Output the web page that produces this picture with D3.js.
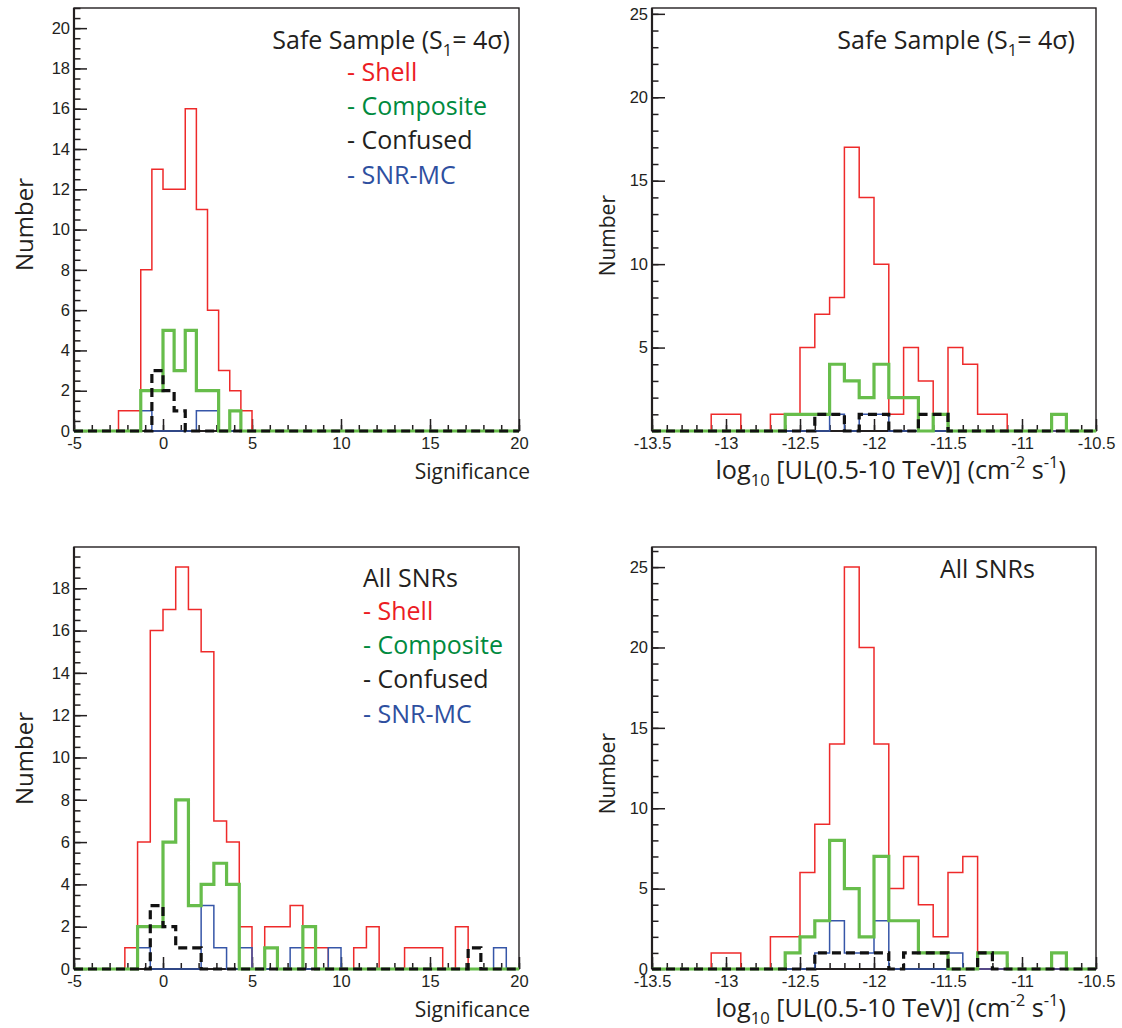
<!DOCTYPE html>
<html><head><meta charset="utf-8">
<script src="https://cdn.jsdelivr.net/npm/d3@7"></script>
<style>body{margin:0;background:#fff}svg{display:block}</style>
</head><body>
<svg id="c" width="1122" height="1028"></svg>
<script>
// ---------------- data ----------------
const sigRange = [-5, 20];
const ulRange = [-13.5, -10.5];
const sigTicks = [-5, 0, 5, 10, 15, 20];
const ulTicks = [-13.5, -13, -12.5, -12, -11.5, -11, -10.5];
const yTicksTL = [0, 2, 4, 6, 8, 10, 12, 14, 16, 18, 20];
const yTicksTR = [5, 10, 15, 20, 25];
const yTicksBL = [0, 2, 4, 6, 8, 10, 12, 14, 16, 18];
const yTicksBR = [0, 5, 10, 15, 20, 25];
const seriesNames = ["- Shell", "- Composite", "- Confused", "- SNR-MC"];

// Safe sample, significance (40 bins, -5..20)
const safeSigShell     = [0,0,0,0,1,1,8,13,12,12,16,11,6,3,2,1,0,0,0,0,0,0,0,0,0,0,0,0,0,0,0,0,0,0,0,0,0,0,0,0];
const safeSigComposite = [0,0,0,0,0,0,2,2,5,3,5,2,2,0,1,0,0,0,0,0,0,0,0,0,0,0,0,0,0,0,0,0,0,0,0,0,0,0,0,0];
const safeSigConfused  = [0,0,0,0,0,0,0,3,2,1,0,0,0,0,0,0,0,0,0,0,0,0,0,0,0,0,0,0,0,0,0,0,0,0,0,0,0,0,0,0];
const safeSigSnrMc     = [0,0,0,0,0,0,1,0,0,0,0,1,1,0,0,0,0,0,0,0,0,0,0,0,0,0,0,0,0,0,0,0,0,0,0,0,0,0,0,0];

// Safe sample, log10 UL (30 bins, -13.5..-10.5)
const safeUlShell     = [0,0,0,0,1,1,0,0,1,1,5,7,8,17,14,10,1,5,3,1,5,4,1,1,0,0,0,0,0,0];
const safeUlComposite = [0,0,0,0,0,0,0,0,0,1,1,1,4,3,2,4,2,2,0,1,0,0,0,0,0,0,0,1,0,0];
const safeUlConfused  = [0,0,0,0,0,0,0,0,0,0,0,1,1,0,1,1,0,0,1,1,0,0,0,0,0,0,0,0,0,0];
const safeUlSnrMc     = [0,0,0,0,0,0,0,0,0,0,0,0,1,0,1,1,0,0,0,0,0,0,0,0,0,0,0,0,0,0];

// All SNRs, significance (35 bins, -5..20)
const allSigShell     = [0,0,0,0,1,6,16,17,19,17,15,7,6,2,0,2,2,3,1,1,0,0,1,2,0,0,1,1,1,0,2,0,0,0,0];
const allSigComposite = [0,0,0,0,0,2,2,6,8,3,4,5,4,0,0,1,0,0,2,0,0,0,0,0,0,0,0,0,0,0,0,0,0,0,0];
const allSigConfused  = [0,0,0,0,0,0,3,2,1,1,0,0,0,0,0,0,0,0,0,0,0,0,0,0,0,0,0,0,0,0,0,1,0,0,0];
const allSigSnrMc     = [0,0,0,0,0,1,0,0,0,0,3,1,0,1,0,0,0,1,0,0,1,0,0,0,0,0,0,0,0,0,0,0,0,1,0];

// All SNRs, log10 UL (30 bins, -13.5..-10.5)
const allUlShell     = [0,0,0,0,1,1,0,0,2,2,6,9,14,25,20,14,5,7,4,2,6,7,0,0,0,0,0,0,0,0];
const allUlComposite = [0,0,0,0,0,0,0,0,0,1,2,3,8,5,2,7,3,3,1,1,0,0,1,1,0,0,0,1,0,0];
const allUlConfused  = [0,0,0,0,0,0,0,0,0,0,0,1,1,1,1,1,0,1,1,1,0,0,1,0,0,0,0,0,0,0];
const allUlSnrMc     = [0,0,0,0,0,0,0,0,0,0,0,1,3,1,1,3,0,0,0,0,1,0,0,0,0,0,0,0,0,0];

// ---------------- styles ----------------
const LABEL_FONT = "'Open Sans', 'DejaVu Sans', sans-serif";
const TICK_FONT = "'Liberation Sans', Arial, sans-serif";
const lineStyles = {
  shell:     {color: "#ee2a2a", width: 1.5, dash: null},
  snrmc:     {color: "#3656a8", width: 1.5, dash: null},
  composite: {color: "#67bd4b", width: 3.2, dash: null},
  confused:  {color: "#111111", width: 3.2, dash: "9,5"}
};
const textColors = ["#ec1c24", "#008a3e", "#231f20", "#2e4f9f"];

const svg = d3.select("#c");
svg.append("rect").attr("width", 1122).attr("height", 1028).attr("fill", "#fff");

function richText(g, x, y, parts, opts) {
  const size = opts.size;
  const t = g.append("text").attr("x", x).attr("y", y)
    .attr("font-family", LABEL_FONT).attr("font-size", size)
    .attr("fill", opts.color || "#231f20")
    .attr("text-anchor", opts.anchor || "start");
  if (opts.transform) t.attr("transform", opts.transform);
  let shift = 0;
  parts.forEach(p => {
    let target = 0, fs = size;
    if (p.sub) { target = 0.28 * size; fs = 0.66 * size; }
    if (p.sup) { target = -0.42 * size; fs = 0.66 * size; }
    t.append("tspan").attr("dy", target - shift).attr("font-size", fs).text(p.t);
    shift = target;
  });
  return t;
}

const panels = [
  {x0: 74, x1: 519, yTop: 8, yBase: 431, yMax: 21, xDom: sigRange, xTicks: sigTicks, xMinor: 1,
   yTicks: yTicksTL, yMinor: 0.5,
   series: [safeSigShell, safeSigSnrMc, safeSigComposite, safeSigConfused],
   kind: "sig", legend: true, title: "safe", titleX: 510, titleY: 49, legendX: 347, legendY: 81,
   nameX: 33, nameEnd: 178, nameSize: 24, xTitleY: 479},
  {x0: 652, x1: 1096, yTop: 8, yBase: 431, yMax: 25.35, xDom: ulRange, xTicks: ulTicks, xMinor: 0.1,
   yTicks: yTicksTR, yMinor: 1,
   series: [safeUlShell, safeUlSnrMc, safeUlComposite, safeUlConfused],
   kind: "ul", legend: false, title: "safe", titleX: 1075, titleY: 49,
   nameX: 615, nameEnd: 195, nameSize: 21, xTitleY: 479},
  {x0: 74, x1: 519, yTop: 547, yBase: 969, yMax: 19.95, xDom: sigRange, xTicks: sigTicks, xMinor: 1,
   yTicks: yTicksBL, yMinor: 0.5,
   series: [allSigShell, allSigSnrMc, allSigComposite, allSigConfused],
   kind: "sig", legend: true, title: "all", titleX: 363, titleY: 587, legendX: 363, legendY: 620,
   nameX: 33, nameEnd: 712, nameSize: 24, xTitleY: 1017},
  {x0: 652, x1: 1096, yTop: 547, yBase: 969, yMax: 26.25, xDom: ulRange, xTicks: ulTicks, xMinor: 0.1,
   yTicks: yTicksBR, yMinor: 1,
   series: [allUlShell, allUlSnrMc, allUlComposite, allUlConfused],
   kind: "ul", legend: false, title: "all", titleX: 940, titleY: 578,
   nameX: 615, nameEnd: 733, nameSize: 21, xTitleY: 1017}
];
const styleOrder = ["shell", "snrmc", "composite", "confused"];

panels.forEach(p => {
  const g = svg.append("g");
  const x = d3.scaleLinear().domain(p.xDom).range([p.x0, p.x1]);
  const y = d3.scaleLinear().domain([0, p.yMax]).range([p.yBase, p.yTop]);

  // frame
  g.append("rect").attr("x", p.x0).attr("y", p.yTop)
    .attr("width", p.x1 - p.x0).attr("height", p.yBase - p.yTop)
    .attr("fill", "none").attr("stroke", "#231f20").attr("stroke-width", 1.4);

  const xMinorVals = d3.range(0, Math.round((p.xDom[1] - p.xDom[0]) / p.xMinor) + 1).map(i => p.xDom[0] + i * p.xMinor);
  const yMinorVals = d3.range(0, Math.floor(p.yMax / p.yMinor + 1e-9) + 1).map(i => i * p.yMinor);

  const axStyle = sel => {
    sel.select(".domain").remove();
    sel.selectAll("line").attr("stroke", "#231f20").attr("stroke-width", 1.5);
    sel.attr("font-family", TICK_FONT).attr("font-size", 16.5);
    sel.selectAll("text").attr("fill", "#231f20");
  };

  g.append("g").attr("transform", `translate(0,${p.yBase})`)
    .call(d3.axisBottom(x).tickValues(xMinorVals).tickSize(-6).tickFormat(""))
    .call(axStyle);
  g.append("g").attr("transform", `translate(0,${p.yBase})`)
    .call(d3.axisBottom(x).tickValues(p.xTicks).tickSize(-12).tickPadding(6).tickFormat(d => String(d)))
    .call(axStyle)
    .call(s => s.selectAll("text").attr("y", 6).attr("dy", "0.71em"));
  g.append("g").attr("transform", `translate(${p.x0},0)`)
    .call(d3.axisLeft(y).tickValues(yMinorVals).tickSize(-6.5).tickFormat(""))
    .call(axStyle);
  g.append("g").attr("transform", `translate(${p.x0},0)`)
    .call(d3.axisLeft(y).tickValues(p.yTicks).tickSize(-13).tickPadding(4).tickFormat(d => String(d)))
    .call(axStyle)
    .call(s => s.selectAll("text").attr("x", -4));

  // axis lines
  g.append("line").attr("x1", p.x0).attr("x2", p.x0).attr("y1", p.yTop).attr("y2", p.yBase)
    .attr("stroke", "#231f20").attr("stroke-width", 2.2);
  g.append("line").attr("x1", p.x0).attr("x2", p.x1).attr("y1", p.yBase).attr("y2", p.yBase)
    .attr("stroke", "#231f20").attr("stroke-width", 2.2);

  // histograms
  p.series.forEach((counts, si) => {
    const st = lineStyles[styleOrder[si]];
    const n = counts.length, w = (p.xDom[1] - p.xDom[0]) / n;
    const pts = counts.map((c, i) => [p.xDom[0] + i * w, c]);
    pts.push([p.xDom[1], counts[n - 1]]);
    const line = d3.line().x(d => x(d[0])).y(d => y(d[1])).curve(d3.curveStepAfter);
    const path = g.append("path").attr("d", line(pts)).attr("fill", "none")
      .attr("stroke", st.color).attr("stroke-width", st.width).attr("stroke-linejoin", "miter");
    if (st.dash) path.attr("stroke-dasharray", st.dash);
  });

  // title text
  if (p.title === "safe") {
    richText(g, p.titleX, p.titleY, [{t: "Safe Sample (S"}, {t: "1", sub: true}, {t: "= 4σ)"}],
      {size: 25, anchor: "end"});
  } else {
    richText(g, p.titleX, p.titleY, [{t: "All SNRs"}], {size: 25});
  }
  if (p.legend) {
    seriesNames.forEach((nm, i) => {
      richText(g, p.legendX, p.legendY + i * 34.2, [{t: nm}], {size: 25, color: textColors[i]});
    });
  }

  // axis titles
  richText(g, 0, 0, [{t: "Number"}], {size: p.nameSize, anchor: "end",
    transform: `translate(${p.nameX},${p.nameEnd}) rotate(-90)`});
  if (p.kind === "sig") {
    richText(g, 530, p.xTitleY, [{t: "Significance"}], {size: 21, anchor: "end"});
  } else {
    richText(g, 1066, p.xTitleY, [{t: "log"}, {t: "10", sub: true}, {t: " [UL(0.5-10 TeV)] (cm"},
      {t: "-2", sup: true}, {t: " s"}, {t: "-1", sup: true}, {t: ")"}], {size: 25.2, anchor: "end"});
  }
});
</script>
</body></html>
